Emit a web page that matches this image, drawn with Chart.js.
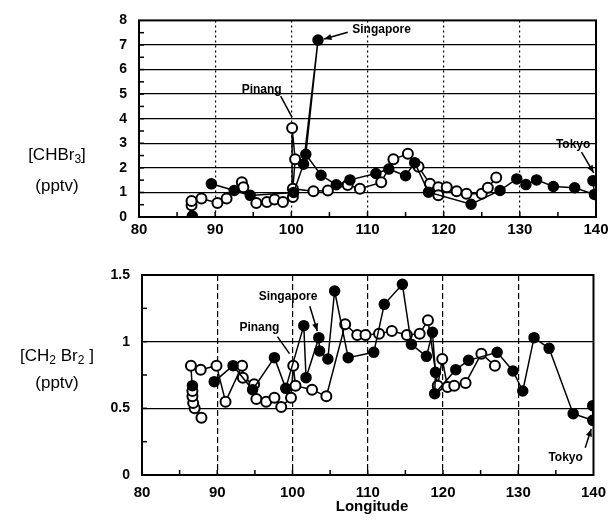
<!DOCTYPE html>
<html><head><meta charset="utf-8">
<script src="https://cdn.jsdelivr.net/npm/chart.js@4"></script>
<style>
body{margin:0;background:#fff;width:615px;height:520px;position:relative;overflow:hidden;font-family:'Liberation Sans',Arial,sans-serif;color:#000;}
canvas{position:absolute;left:0;}
#c1{top:0;}
#c2{top:250px;}
.lab{position:absolute;font-size:17px;text-align:center;width:110px;line-height:20px;}
.lab sub{font-size:12px;vertical-align:-3px;line-height:0;}
#lon{position:absolute;left:322px;top:497px;width:100px;text-align:center;font-weight:bold;font-size:15px;}
</style></head><body>
<canvas id="c1" width="615" height="245"></canvas>
<canvas id="c2" width="615" height="270"></canvas>
<div class="lab" style="left:2px;top:145px">[CHBr<sub>3</sub>]</div>
<div class="lab" style="left:2px;top:176px">(pptv)</div>
<div class="lab" style="left:2px;top:346px">[CH<sub>2</sub> Br<sub>2</sub> ]</div>
<div class="lab" style="left:2px;top:373px">(pptv)</div>
<div id="lon">Longitude</div>
<script>
// ---- CHBr3 (top panel) ----
const chbr3FilledLon = [87.0, null, 89.5, 92.5, 94.6, 100.3, 101.6, 103.5, 101.9, 103.9, 105.9, 107.7, 111.1, 112.8, 115.0, 116.2, 118.0, 123.6, 127.4, 129.6, 130.8, 132.2, 134.4, 137.2, 139.8, 139.6];
const chbr3FilledVal = [0.04, null, 1.35, 1.08, 0.88, 1.0, 2.15, 7.2, 2.55, 1.7, 1.31, 1.51, 1.77, 1.95, 1.68, 2.21, 1.01, 0.52, 1.08, 1.55, 1.32, 1.51, 1.24, 1.19, 0.92, 1.48];
const chbr3OpenLon = [86.9, 86.9, 88.2, 90.3, 91.5, 93.5, 93.7, 95.4, 96.8, 97.8, 98.9, 100.2, 100.1, 100.5, 100.2, 102.9, 104.8, 107.4, 109.0, 111.8, 113.4, 115.3, 116.7, 118.2, 119.3, 119.3, 120.4, 121.7, 123.0, 125.0, 125.8, 126.9];
const chbr3OpenVal = [0.48, 0.65, 0.75, 0.57, 0.75, 1.41, 1.21, 0.57, 0.61, 0.71, 0.61, 0.81, 3.62, 2.35, 1.15, 1.05, 1.08, 1.3, 1.15, 1.41, 2.35, 2.57, 2.04, 1.35, 1.21, 0.88, 1.21, 1.05, 0.95, 0.95, 1.19, 1.61];

// ---- CH2Br2 (bottom panel) ----
const ch2br2FilledLon = [86.7, null, 89.6, 92.1, 94.7, 97.6, 99.1, 101.5, 101.8, 103.5, 103.6, 104.7, 105.6, 107.4, 110.8, 112.2, 114.6, 115.8, 117.8, 118.6, 119.0, 118.9, 121.7, 123.4, 127.2, 129.3, 130.6, 132.1, 134.1, 137.3, 139.9, 139.9];
const ch2br2FilledVal = [0.67, null, 0.70, 0.82, 0.64, 0.88, 0.65, 1.12, 0.73, 1.03, 0.93, 0.87, 1.38, 0.88, 0.92, 1.28, 1.43, 0.98, 0.89, 1.07, 0.77, 0.61, 0.79, 0.86, 0.92, 0.78, 0.63, 1.03, 0.95, 0.46, 0.41, 0.52];
const ch2br2OpenLon = [87.9, 87.0, 86.8, 86.7, 86.7, 86.5, 87.8, 89.9, 91.1, 93.3, 93.4, 94.9, 95.2, 96.5, 97.6, 98.5, 99.8, 100.1, 100.4, 102.6, 104.5, 107.0, 108.6, 109.7, 111.5, 113.2, 115.2, 116.9, 118.0, 119.3, 119.9, 120.6, 121.5, 123.0, 125.1, 126.9];
const ch2br2OpenVal = [0.43, 0.50, 0.54, 0.59, 0.63, 0.82, 0.79, 0.82, 0.55, 0.82, 0.73, 0.68, 0.57, 0.55, 0.58, 0.51, 0.58, 0.82, 0.67, 0.64, 0.59, 1.13, 1.05, 1.05, 1.06, 1.08, 1.05, 1.06, 1.16, 0.67, 0.87, 0.66, 0.67, 0.69, 0.91, 0.82];

// tick ranges
const lonTicks = [80, 140, 10];
const chbr3Ticks = [0, 8, 1];
const ch2br2Ticks = [0, 1.5, 0.5];

// annotation labels
const topNotes = [
  {text:'Singapore', at:[108.0, 7.64], align:'left', from:[107.4, 7.52], to:[104.3, 7.24], head:true},
  {text:'Pinang', at:[96.1, 5.2], align:'center', from:[98.6, 4.92], to:[100.1, 4.05], head:false},
  {text:'Tokyo', at:[137.0, 2.96], align:'center', from:[138.1, 2.64], to:[139.7, 1.8], head:true}
];
const bottomNotes = [
  {text:'Singapore', at:[99.4, 1.335], align:'center', from:[102.3, 1.265], to:[103.3, 1.08], head:true},
  {text:'Pinang', at:[95.6, 1.106], align:'center', from:[98.0, 1.038], to:[99.6, 0.91], head:false},
  {text:'Tokyo', at:[136.3, 0.129], align:'center', from:[138.9, 0.205], to:[139.7, 0.345], head:true}
];

const FONT = "'Liberation Sans', Arial, sans-serif";
const pts = (xs, ys) => xs.map((x, i) => ({x: x === null ? 80 : x, y: ys[i]}));

const decor = {
  id: 'decor',
  afterDatasetsDraw(chart, args, o) {
    const {ctx, chartArea: a, scales: {x, y}} = chart;
    ctx.save();
    ctx.strokeStyle = '#000';
    ctx.fillStyle = '#000';
    ctx.lineWidth = 1.5;
    for (let v = y.min + o.yMinor; v < y.max - 1e-9; v += o.yMinor) {
      const py = y.getPixelForValue(v);
      ctx.beginPath(); ctx.moveTo(a.left, py); ctx.lineTo(a.left + 5, py); ctx.stroke();
    }
    for (let v = x.min + 5; v < x.max; v += 5) {
      const px = x.getPixelForValue(v);
      ctx.beginPath(); ctx.moveTo(px, a.bottom); ctx.lineTo(px, a.bottom - 5); ctx.stroke();
    }
    ctx.lineWidth = 2;
    ctx.strokeRect(a.left, a.top, a.right - a.left, a.bottom - a.top);
    ctx.font = 'bold 12px ' + FONT;
    ctx.textBaseline = 'middle';
    ctx.lineWidth = 1.5;
    for (const n of o.notes) {
      ctx.textAlign = n.align;
      ctx.fillText(n.text, x.getPixelForValue(n.at[0]), y.getPixelForValue(n.at[1]));
      const x1 = x.getPixelForValue(n.from[0]), y1 = y.getPixelForValue(n.from[1]);
      const x2 = x.getPixelForValue(n.to[0]), y2 = y.getPixelForValue(n.to[1]);
      ctx.beginPath(); ctx.moveTo(x1, y1); ctx.lineTo(x2, y2); ctx.stroke();
      if (n.head) {
        const ang = Math.atan2(y2 - y1, x2 - x1), L = 8;
        ctx.beginPath(); ctx.moveTo(x2, y2);
        ctx.lineTo(x2 - L * Math.cos(ang - 0.4), y2 - L * Math.sin(ang - 0.4));
        ctx.lineTo(x2 - L * Math.cos(ang + 0.4), y2 - L * Math.sin(ang + 0.4));
        ctx.closePath(); ctx.fill();
      }
    }
    ctx.restore();
  }
};

function makeChart(id, fX, fY, oX, oY, yT, yMinor, vDash, pad, xPad, notes) {
  const [ymin, ymax, ystep] = yT;
  return new Chart(document.getElementById(id), {
    type: 'scatter',
    data: {
      datasets: [
        {data: pts(fX, fY), showLine: true, borderColor: '#000', borderWidth: 1.5,
         pointRadius: 5, pointBackgroundColor: '#000', pointBorderColor: '#000', pointBorderWidth: 1.5},
        {data: pts(oX, oY), showLine: true, borderColor: '#000', borderWidth: 1.5,
         pointRadius: 5, pointBackgroundColor: '#fff', pointBorderColor: '#000', pointBorderWidth: 2}
      ]
    },
    options: {
      responsive: false, animation: false, events: [],
      layout: {padding: pad},
      plugins: {legend: {display: false}, tooltip: {enabled: false}, decor: {notes: notes, yMinor: yMinor}},
      scales: {
        x: {
          type: 'linear', min: lonTicks[0], max: lonTicks[1],
          afterFit: s => { s.height = 28; },
          ticks: {stepSize: lonTicks[2], color: '#000', padding: xPad, maxRotation: 0,
                  font: {family: FONT, weight: 'bold', size: 15}},
          grid: {drawTicks: false, lineWidth: 1.2,
                 color: c => (c.tick && (c.tick.value === lonTicks[0] || c.tick.value === lonTicks[1])) ? 'rgba(0,0,0,0)' : '#000'},
          border: {display: false, dash: vDash}
        },
        y: {
          type: 'linear', min: ymin, max: ymax,
          afterFit: s => { s.width = 40; },
          ticks: {stepSize: ystep, color: '#000', padding: 12, callback: v => String(v),
                  font: {family: FONT, weight: 'bold', size: 14}},
          grid: {drawTicks: false, lineWidth: 1.3,
                 color: c => (c.tick && (c.tick.value === ymin || c.tick.value === ymax)) ? 'rgba(0,0,0,0)' : '#000'},
          border: {display: false}
        }
      }
    },
    plugins: [decor]
  });
}

makeChart('c1', chbr3FilledLon, chbr3FilledVal, chbr3OpenLon, chbr3OpenVal, chbr3Ticks, 0.5, [2, 3],
  {left: 99, right: 19, top: 15, bottom: 0}, 4, topNotes);
makeChart('c2', ch2br2FilledLon, ch2br2FilledVal, ch2br2OpenLon, ch2br2OpenVal, ch2br2Ticks, 0.25, [6, 3],
  {left: 102, right: 13, top: 25, bottom: 17}, 9, bottomNotes);
</script>
</body></html>
